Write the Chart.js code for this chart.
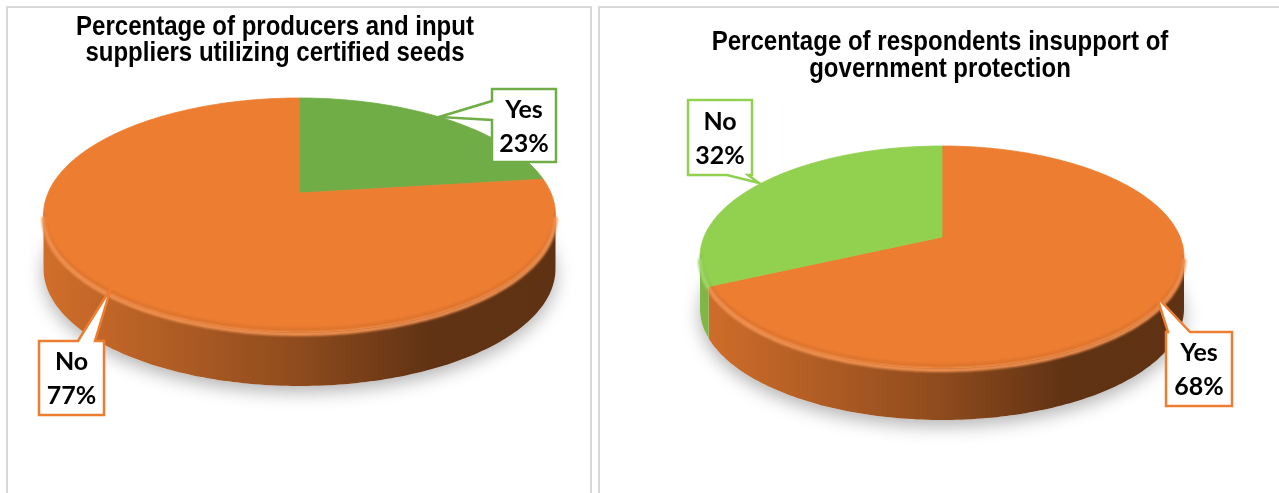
<!DOCTYPE html>
<html>
<head>
<meta charset="utf-8">
<script src="https://cdn.jsdelivr.net/npm/chart.js@4.4.1/dist/chart.umd.min.js"></script>
<style>
  body { margin: 0; background: #fff; width: 1279px; height: 493px; overflow: hidden; position: relative; }
  .panel { position: absolute; top: 6px; height: 500px; border: 2px solid #d9d9d9; border-bottom: none; background: #fff; }
  #leftPanel { left: 6px; width: 582px; }
  #rightPanel { left: 598px; width: 700px; border-right: none; }
  canvas { position: absolute; top: 0; }
  #seedChart { left: 0; }
  #protectionChart { left: 600px; }
</style>
</head>
<body>
<div class="panel" id="leftPanel"></div>
<div class="panel" id="rightPanel"></div>
<canvas id="seedChart" width="595" height="493"></canvas>
<canvas id="protectionChart" width="679" height="493"></canvas>
<script>
// Certified seed use (percent of producers / input suppliers)
const seedCategories = ['Yes', 'No'];
const seedShares = [23, 77];
const seedColors = ['#70ad47', '#ed7d31'];
const seedTitle = ['Percentage of producers and input', 'suppliers utilizing certified seeds'];

// Support for government protection (percent of respondents)
const protectionCategories = ['Yes', 'No'];
const protectionShares = [68, 32];
const protectionColors = ['#ed7d31', '#92d050'];
const protectionTitle = ['Percentage of respondents insupport of', 'government protection'];

// Scale an #rrggbb colour towards black (f < 1) or white (t > 0)
function shade(hex, f) {
  const n = parseInt(hex.slice(1), 16);
  return `rgb(${Math.round(((n >> 16) & 255) * f)},${Math.round(((n >> 8) & 255) * f)},${Math.round((n & 255) * f)})`;
}
function tint(hex, t) {
  const n = parseInt(hex.slice(1), 16);
  const m = c => Math.round(c + (255 - c) * t);
  return `rgb(${m((n >> 16) & 255)},${m((n >> 8) & 255)},${m(n & 255)})`;
}

// Callout box with a pointer wedge on one side
function calloutPath(ctx, c) {
  const [x, y, w, h] = c.box;
  const r = x + w, b = y + h;
  ctx.beginPath();
  ctx.moveTo(x, y);
  if (c.side === 'top') { ctx.lineTo(c.from, y); ctx.lineTo(c.tip[0], c.tip[1]); ctx.lineTo(c.to, y); }
  ctx.lineTo(r, y);
  ctx.lineTo(r, b);
  if (c.side === 'bottom') { ctx.lineTo(c.to, b); ctx.lineTo(c.tip[0], c.tip[1]); ctx.lineTo(c.from, b); }
  ctx.lineTo(x, b);
  if (c.side === 'left') { ctx.lineTo(x, c.to); ctx.lineTo(c.tip[0], c.tip[1]); ctx.lineTo(x, c.from); }
  ctx.closePath();
}

// Draws the pie as a tilted disc in perspective, using the arc angles Chart.js computed
const pie3d = {
  id: 'pie3d',
  beforeDatasetsDraw(chart, args, opts) {
    const ctx = chart.ctx;
    const arcs = chart.getDatasetMeta(0).data;
    const k = opts.lift / opts.ry;
    const A = opts.rx * Math.sqrt(1 - k * k);
    const project = (t, dy) => {
      const u = Math.cos(t), v = Math.sin(t), w = 1 + k * v;
      return [opts.cx + A * u / w, opts.cy + (opts.ry * v + opts.lift) / w + dy];
    };
    const trace = (a, b, dy, move) => {
      const steps = Math.max(2, Math.ceil(Math.abs(b - a) / (Math.PI / 180)));
      for (let i = 0; i <= steps; i++) {
        const p = project(a + (b - a) * i / steps, dy);
        if (i === 0 && move) ctx.moveTo(p[0], p[1]); else ctx.lineTo(p[0], p[1]);
      }
    };
    const lo = Math.asin(-k), hi = Math.PI - lo;

    // soft drop shadow under the disc
    ctx.save();
    ctx.shadowColor = 'rgba(0,0,0,0.3)';
    ctx.shadowBlur = 18;
    ctx.shadowOffsetY = 6;
    ctx.beginPath();
    trace(0, Math.PI * 2, opts.depth, true);
    ctx.closePath();
    ctx.fillStyle = '#fff';
    ctx.fill();
    ctx.restore();

    // outer wall, front half only
    arcs.forEach(arc => {
      const s = Math.max(arc.startAngle, lo), e = Math.min(arc.endAngle, hi);
      if (e <= s) return;
      const c = arc.options.backgroundColor;
      const grad = ctx.createLinearGradient(opts.cx - opts.rx, 0, opts.cx + opts.rx, 0);
      grad.addColorStop(0, shade(c, 0.88));
      grad.addColorStop(0.5, shade(c, 0.6));
      grad.addColorStop(0.75, shade(c, 0.41));
      grad.addColorStop(1, shade(c, 0.4));
      ctx.beginPath();
      trace(s, e, 0, true);
      trace(e, s, opts.depth, false);
      ctx.closePath();
      ctx.fillStyle = grad;
      ctx.fill();
    });

    // top faces
    arcs.forEach(arc => {
      const c = arc.options.backgroundColor;
      ctx.beginPath();
      ctx.moveTo(opts.cx, opts.cy + opts.lift);
      trace(arc.startAngle, arc.endAngle, 0, false);
      ctx.closePath();
      ctx.fillStyle = c;
      ctx.strokeStyle = c;
      ctx.lineWidth = 0.8;
      ctx.fill();
      ctx.stroke();
    });

    // soft bevel along the front rim
    arcs.forEach(arc => {
      const s = Math.max(arc.startAngle, lo), e = Math.min(arc.endAngle, hi);
      if (e <= s) return;
      const c = arc.options.backgroundColor;
      ctx.save();
      ctx.filter = 'blur(1px)';
      ctx.beginPath();
      trace(s, e, -2.5, true);
      ctx.strokeStyle = 'rgba(0,0,0,0.06)';
      ctx.lineWidth = 4;
      ctx.stroke();
      ctx.beginPath();
      trace(s, e, 2, true);
      ctx.strokeStyle = tint(c, 0.15);
      ctx.lineWidth = 4;
      ctx.stroke();
      ctx.restore();
    });
    return false;
  },
  afterDraw(chart, args, opts) {
    const ctx = chart.ctx;
    const arcs = chart.getDatasetMeta(0).data;
    const values = chart.data.datasets[0].data;

    // chart title, condensed bold
    ctx.save();
    ctx.fillStyle = '#000';
    ctx.textAlign = 'center';
    ctx.textBaseline = 'alphabetic';
    ctx.font = 'bold 27px "Liberation Sans", Arial, sans-serif';
    opts.title.forEach((line, i) => {
      ctx.save();
      ctx.translate(opts.titleX, opts.titleY + i * opts.titleGap);
      ctx.scale(0.89, 1);
      ctx.fillText(line, 0, 0);
      ctx.restore();
    });
    ctx.restore();

    // data callouts
    opts.callouts.forEach((c, i) => {
      const color = arcs[i].options.backgroundColor;
      ctx.save();
      calloutPath(ctx, c);
      ctx.fillStyle = '#fff';
      ctx.fill();
      ctx.strokeStyle = color;
      ctx.lineWidth = 2.5;
      ctx.lineJoin = 'miter';
      ctx.stroke();
      const [x, y, w, h] = c.box;
      ctx.fillStyle = '#000';
      ctx.font = 'bold 25px Lato, "Open Sans", sans-serif';
      ctx.textAlign = 'center';
      ctx.textBaseline = 'middle';
      ctx.fillText(chart.data.labels[i], x + w / 2, y + h / 2 - 16);
      ctx.fillText(values[i] + '%', x + w / 2, y + h / 2 + 18);
      ctx.restore();
    });
  }
};

function makePie(id, labels, values, colors, opts) {
  return new Chart(document.getElementById(id), {
    type: 'pie',
    data: {
      labels: labels,
      datasets: [{ data: values, backgroundColor: colors, borderWidth: 0 }]
    },
    options: {
      responsive: false,
      animation: false,
      events: [],
      plugins: {
        legend: { display: false },
        tooltip: { enabled: false },
        pie3d: opts
      }
    },
    plugins: [pie3d]
  });
}

makePie('seedChart', seedCategories, seedShares, seedColors, {
  cx: 299.5, cy: 215, rx: 256, ry: 117, lift: -22, depth: 54,
  title: seedTitle, titleX: 275, titleY: 35, titleGap: 26,
  callouts: [
    { box: [492, 89, 64, 73], side: 'left', from: 101, to: 120, tip: [439, 117] },
    { box: [39, 341, 65, 74], side: 'top', from: 78, to: 95, tip: [111, 288] }
  ]
});

makePie('protectionChart', protectionCategories, protectionShares, protectionColors, {
  cx: 342, cy: 257, rx: 242, ry: 111, lift: -20, depth: 52,
  title: protectionTitle, titleX: 340, titleY: 50, titleGap: 27,
  callouts: [
    { box: [566, 332, 66, 74], side: 'top', from: 568, to: 590, tip: [557, 297] },
    { box: [88, 100, 64, 75], side: 'bottom', from: 127, to: 148, tip: [159, 183] }
  ]
});
</script>
</body>
</html>
